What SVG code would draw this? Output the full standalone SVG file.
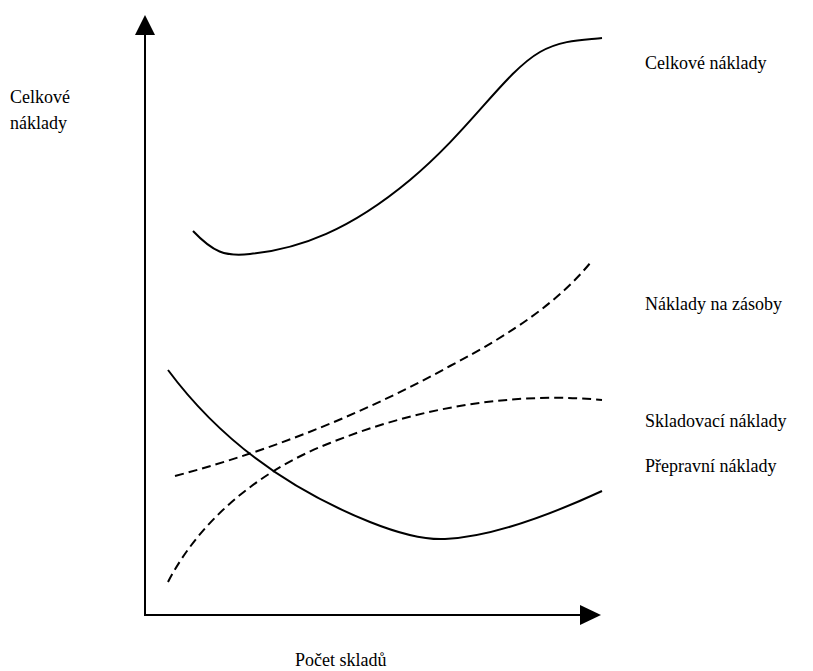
<svg xmlns="http://www.w3.org/2000/svg" width="813" height="671" viewBox="0 0 813 671">
<style>
  text { font-family: 'Liberation Serif', 'Times New Roman', Times, 'DejaVu Serif', serif; font-size: 18px; fill: #000; }
  .axis { stroke: #000; stroke-width: 2; fill: none; }
  .solid { stroke: #000; stroke-width: 2; fill: none; }
  .dash { stroke: #000; stroke-width: 2; fill: none; stroke-dasharray: 9 5; }
</style>
<rect width="813" height="671" fill="#fff"/>
<g id="axes">
  <line class="axis" x1="145" y1="33" x2="145" y2="616"/>
  <polygon points="145,15 135,35 155,35" fill="#000"/>
  <line class="axis" x1="144" y1="615" x2="582" y2="615"/>
  <polygon points="601,615 580,605 580,625" fill="#000"/>
</g>
<g id="connectors">
  <path id="celkove" class="solid" d="M193,231 C213,252 225,257 250,254 C300,249 350,230 410,180 C470,130 505,72 540,52 C562,39.4 585,40 602,38"/>
  <path id="zasoby" class="dash" d="M175,476 C280,448 370,410 450,366 C515,332 560,300 591,262"/>
  <path id="skladovaci" class="dash" d="M168,582 C200,520 260,470 330,443 C400,415 470,400 540,398 C570,397 590,399 602,400"/>
  <path id="prepravni" class="solid" d="M168,370 C220,440 290,490 370,522 C400,534 425,540 445,539 C490,537 550,515 602,491"/>
</g>
<g id="labels">
  <text x="10" y="103">Celkové</text>
  <text x="10" y="129">náklady</text>
  <text x="645" y="69">Celkové náklady</text>
  <text x="645" y="310">Náklady na zásoby</text>
  <text x="645" y="427">Skladovací náklady</text>
  <text x="645" y="472">Přepravní náklady</text>
  <text x="295" y="666">Počet skladů</text>
</g>
</svg>
